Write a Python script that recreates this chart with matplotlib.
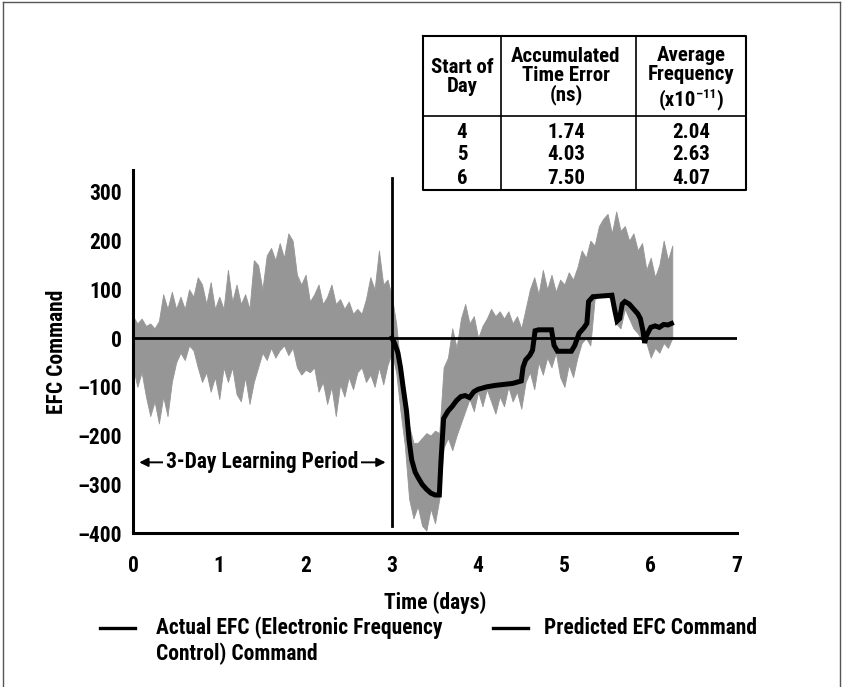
import numpy as np
import matplotlib
matplotlib.use("Agg")
import matplotlib.pyplot as plt
from matplotlib.lines import Line2D
from matplotlib import font_manager as fm

# pick a narrow bold face, the original uses a condensed grotesque
entries = [(f.name, str(f.stretch)) for f in fm.fontManager.ttflist]
narrow = ("condensed", "semi-condensed", "extra-condensed", "ultra-condensed")
font_name, font_stretch = "Roboto", "normal"
for cand in ["Liberation Sans Narrow", "Roboto Condensed", "Open Sans Condensed", "Noto Sans", "DejaVu Sans"]:
    if cand in ("Liberation Sans Narrow", "Roboto Condensed", "Open Sans Condensed"):
        if any(n == cand for n, _ in entries):
            font_name, font_stretch = cand, "normal"
            break
    elif any(n == cand and s in narrow for n, s in entries):
        font_name, font_stretch = cand, "condensed"
        break

plt.rcParams["font.family"] = [font_name, "DejaVu Sans"]
plt.rcParams["font.stretch"] = font_stretch
plt.rcParams["font.weight"] = "bold"
FS = 15.5

# actual EFC command: upper / lower envelope of the noisy trace, every 0.05 day
actual_hi = [45, 30, 40, 25, 30, 20, 35, 90, 60, 95, 60, 85, 60, 100, 85, 125, 110, 70, 115, 60,
             85, 60, 140, 75, 110, 70, 90, 60, 160, 150, 100, 170, 185, 160, 195, 165, 215, 200, 130, 110,
             130, 75, 90, 110, 70, 85, 110, 70, 80, 60, 75, 50, 60, 50, 80, 125, 100, 180, 110, 120,
             85, 30, -60, -110, -180, -215, -215, -205, -195, -200, -190, -195, -60, -40, 20, -20, 40, 70, 30, 45,
             0, 25, 40, 60, 45, 55, 40, 55, 30, 45, 20, 60, 100, 125, 90, 140, 100, 130, 95, 120,
             110, 135, 120, 145, 180, 165, 200, 190, 230, 245, 255, 215, 260, 220, 230, 200, 215, 180, 195, 140,
             165, 125, 150, 200, 160, 190]
actual_lo = [-60, -100, -70, -120, -160, -130, -175, -120, -160, -90, -50, -30, -45, -15, -25, -60, -90, -70, -110, -80,
             -125, -60, -90, -60, -115, -130, -80, -135, -90, -60, -30, -45, -20, -40, -25, -15, -35, -20, -60, -75,
             -65, -70, -60, -110, -90, -135, -100, -160, -95, -120, -80, -105, -70, -60, -90, -75, -100, -60, -95, -55,
             -30, -70, -150, -220, -330, -370, -345, -385, -395, -350, -380, -330, -225, -205, -230, -200, -175, -150, -125, -150,
             -110, -140, -105, -130, -155, -120, -140, -100, -130, -110, -145, -90, -70, -105, -50, -75, -40, -60, -30, -80,
             -100, -55, -80, -40, -10, 0, -15, 80, 85, 85, 85, 80, 30, 20, 60, 40, 20, 10, -5, -10,
             -40, -20, -30, -10, -20, 0]
actual_days = np.round(np.arange(len(actual_hi)) * 0.05, 2)

# predicted EFC command (starts after the learning period)
pred_days = [3.00, 3.03, 3.07, 3.10, 3.13, 3.17, 3.20, 3.23, 3.27, 3.30, 3.35, 3.40, 3.45, 3.50, 3.55,
             3.57, 3.60, 3.65, 3.70, 3.75, 3.80, 3.85, 3.90, 3.95, 4.00, 4.10, 4.20, 4.30, 4.40, 4.50,
             4.52, 4.55, 4.60, 4.63, 4.66, 4.70, 4.85, 4.88, 4.92, 5.08, 5.12, 5.17, 5.22, 5.26, 5.28,
             5.33, 5.55, 5.58, 5.61, 5.64, 5.67, 5.70, 5.75, 5.80, 5.85, 5.88, 5.91, 5.93, 5.95, 6.00,
             6.05, 6.10, 6.15, 6.20, 6.24]
pred_vals = [0, -10, -30, -60, -100, -150, -210, -250, -275, -285, -300, -310, -318, -322, -322,
             -250, -165, -150, -140, -128, -120, -118, -122, -110, -105, -100, -97, -95, -93, -88,
             -60, -45, -35, -25, 15, 17, 17, -15, -27, -27, -15, 10, 20, 30, 75,
             85, 88, 60, 35, 40, 70, 75, 70, 60, 50, 40, 15, -10, 5, 22,
             25, 22, 28, 27, 30]

xticks = [0, 1, 2, 3, 4, 5, 6, 7]
yticks = [-400, -300, -200, -100, 0, 100, 200, 300]
ytick_labels = ["–400", "–300", "–200", "–100", "0", "100", "200", "300"]

table_header = ["Start of\nDay", "Accumulated\nTime Error\n(ns)", "Average\nFrequency"]
freq_unit = ["(x10", "–11", ")"]
table_day = ["4", "5", "6"]
table_err = ["1.74", "4.03", "7.50"]
table_freq = ["2.04", "2.63", "4.07"]

W, H = 842, 687
fig = plt.figure(figsize=(W / 100, H / 100), dpi=100)
renderer = fig.canvas.get_renderer()

# page frame
fig.add_artist(Line2D([0.003, 0.003], [0, 0.997], color="#555555", lw=1, transform=fig.transFigure))
fig.add_artist(Line2D([0.003, 0.998], [0.997, 0.997], color="#555555", lw=1, transform=fig.transFigure))
fig.add_artist(Line2D([0.998, 0.998], [0, 0.997], color="#555555", lw=1, transform=fig.transFigure))

ax = fig.add_axes([133 / W, 1 - 533 / H, (737 - 133) / W, (533 - 170) / H])
ax.fill_between(actual_days, actual_lo, actual_hi, color="#969696", lw=0.6, edgecolor="#969696")
ax.plot(pred_days, pred_vals, color="black", lw=3.6, solid_joinstyle="miter")

ax.plot([0, 7], [0, 0], color="black", lw=2)
ax.plot([3, 3], [-385, 328], color="black", lw=2)

ax.set_xlim(0, 7)
ax.set_ylim(-400, 345)
for s in ["top", "right"]:
    ax.spines[s].set_visible(False)
for s in ["left", "bottom"]:
    ax.spines[s].set_linewidth(2.2)
ax.set_xticks(xticks)
ax.set_xticklabels([str(t) for t in xticks], fontsize=FS, fontweight="bold")
ax.set_yticks(yticks)
ax.set_yticklabels(ytick_labels, fontsize=FS, fontweight="bold")
ax.tick_params(length=0, pad=8)
ax.tick_params(axis="x", pad=16)
ax.set_xlabel("Time (days)", fontsize=FS, fontweight="bold", labelpad=10)
ax.set_ylabel("EFC Command", fontsize=FS, fontweight="bold", labelpad=7)

ax.annotate("", xy=(0.04, -255), xytext=(2.96, -255),
            arrowprops=dict(arrowstyle="<|-|>", color="black", lw=1.4, mutation_scale=13))
ax.text(1.5, -255, "3-Day Learning Period", ha="center", va="center", fontsize=FS,
        fontweight="bold", bbox=dict(facecolor="white", edgecolor="none", pad=2))

# legend (both handles drawn black, as in the original)
fig.add_artist(Line2D([100 / W, 135 / W], [1 - 628 / H] * 2, color="black", lw=2.4, transform=fig.transFigure))
fig.text(156 / W, 1 - 616 / H, "Actual EFC (Electronic Frequency\nControl) Command", fontsize=FS,
         fontweight="bold", va="top", ha="left", linespacing=1.25)
fig.add_artist(Line2D([493 / W, 528 / W], [1 - 628 / H] * 2, color="black", lw=2.4, transform=fig.transFigure))
fig.text(544 / W, 1 - 628 / H, "Predicted EFC Command", fontsize=FS, fontweight="bold",
         va="center", ha="left")

# inset table, drawn in pixel units
L, R, T, B = 423, 746, 36, 190
TFS = 15
tax = fig.add_axes([L / W, 1 - B / H, (R - L) / W, (B - T) / H])
tax.set_xlim(L, R)
tax.set_ylim(B, T)
tax.axis("off")
tax.plot([L, R, R, L, L], [T, T, B, B, T], color="black", lw=1.5, clip_on=False)
tax.plot([L, R], [116, 116], color="black", lw=1.2)
tax.plot([501, 501], [T, B], color="black", lw=1.2)
tax.plot([636, 636], [T, B], color="black", lw=1.2)
col_x = [462, 566, 691]
tax.text(col_x[0], 77, table_header[0], ha="center", va="center", fontsize=TFS, linespacing=1.0)
tax.text(col_x[1], 76, table_header[1], ha="center", va="center", fontsize=TFS, linespacing=1.0)
tax.text(col_x[2], 65, table_header[2], ha="center", va="center", fontsize=TFS, linespacing=1.0)

# "(x10" + superscript "-11" + ")"
parts = [tax.text(0, 100, freq_unit[0], ha="left", va="center", fontsize=TFS),
         tax.text(0, 94, freq_unit[1], ha="left", va="center", fontsize=TFS * 0.62),
         tax.text(0, 100, freq_unit[2], ha="left", va="center", fontsize=TFS)]
widths = [p.get_window_extent(renderer).width for p in parts]
x0 = col_x[2] - sum(widths) / 2
for p, w in zip(parts, widths):
    p.set_x(x0)
    x0 += w

row_y = [132, 155, 178]
for ry, a, b, c in zip(row_y, table_day, table_err, table_freq):
    tax.text(col_x[0], ry, a, ha="center", va="center", fontsize=TFS)
    tax.text(col_x[1], ry, b, ha="center", va="center", fontsize=TFS)
    tax.text(col_x[2], ry, c, ha="center", va="center", fontsize=TFS)

fig.savefig("out.png", dpi=100)
